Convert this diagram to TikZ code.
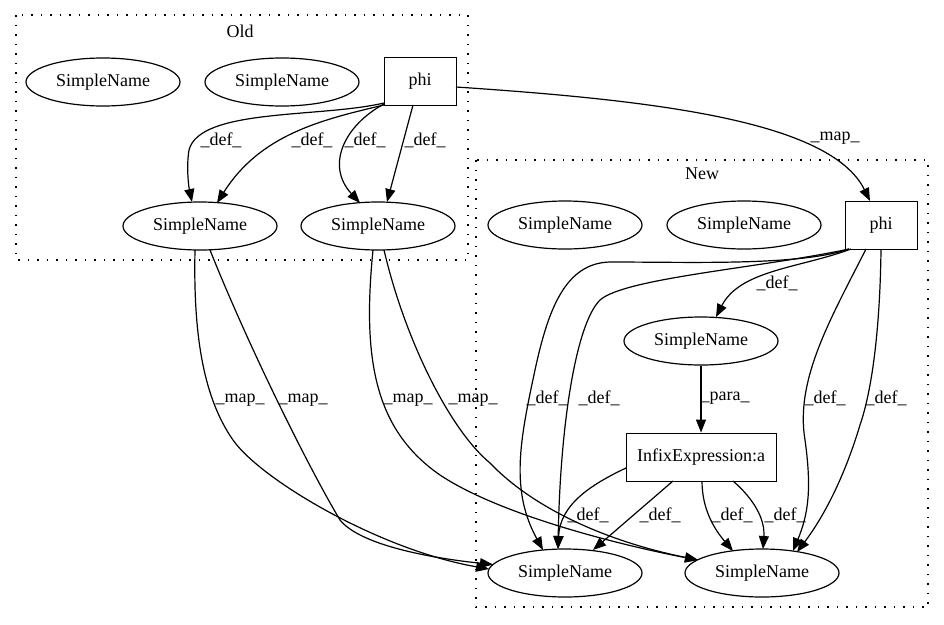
\documentclass[tikz,border=0pt]{standalone}
\usepackage{fontspec}
\setmainfont{Liberation Serif}
\usetikzlibrary{arrows.meta,shapes.geometric,calc}
\begin{document}
\begin{tikzpicture}[x=1pt,y=-1pt,
  every node/.style={font=\fontsize{18}{20}\selectfont},
  sn/.style={draw,ellipse,line width=1.2pt,minimum width=154pt,minimum height=48pt,inner sep=0pt},
  bx/.style={draw,rectangle,line width=0.9pt,minimum height=48pt,inner sep=0pt},
  cl/.style={line width=1.3pt,dash pattern=on 1.5pt off 8pt},
  ed/.style={line width=1.2pt,-{Triangle[length=13pt,width=10pt]}},
  lbl/.style={inner sep=0pt}]
\useasboundingbox (0,0) rectangle (944,624);
% clusters
\draw[cl] (16,15) rectangle (468,260);
\node[lbl] (oldlbl) at (240,31) {Old};
\draw[cl] (476,160) rectangle (928,607);
\node[lbl] (newlbl) at (702,174) {New};
% old nodes
\node[sn] (o1) at (103,82) {SimpleName};
\node[sn] (o2) at (282,82) {SimpleName};
\node[bx,minimum width=72pt] (op) at (420,81) {phi};
\node[sn] (o3) at (200,226) {SimpleName};
\node[sn] (o4) at (378,226) {SimpleName};
% new nodes
\node[sn] (n1) at (565,225) {SimpleName};
\node[sn] (n2) at (744,225) {SimpleName};
\node[bx,minimum width=72pt] (np) at (881,225) {phi};
\node[sn] (n3) at (701,341) {SimpleName};
\node[bx,minimum width=150pt] (ni) at (701,457) {InfixExpression:a};
\node[sn] (n4) at (565,573) {SimpleName};
\node[sn] (n5) at (762,573) {SimpleName};
% old edges
\draw[ed] ($(op)+(-36,22)$) .. controls (320,118) and (200,108) .. (189,150) .. controls (186,168) and (189,188) .. ($(o3)+(-8,-24)$);
\draw[ed] ($(op)+(-36,24)$) .. controls (320,120) and (260,135) .. ($(o3)+(17,-23)$);
\draw[ed] ($(op)+(-36,23)$) .. controls (345,125) and (325,165) .. ($(o4)+(-18,-23)$);
\draw[ed] ($(op)+(-7,24)$) -- ($(o4)+(9,-24)$);
\node[lbl] (l1) at (221,140) {\_def\_};
\node[lbl] (l2) at (312,140) {\_def\_};
\node[lbl] (l3) at (365,140) {\_def\_};
\node[lbl] (l4) at (425,140) {\_def\_};
% map edges
\draw[ed] ($(op)+(36,6)$) .. controls (650,100) and (830,120) .. ($(np)+(-11,-24)$);
\node[lbl] (l5) at (835,138) {\_map\_};
\draw[ed] ($(o3)+(-5,24)$) .. controls (193,340) and (205,400) .. (233,440) .. controls (261,480) and (380,550) .. ($(n4)+(-76,-4)$);
\draw[ed] ($(o3)+(10,24)$) .. controls (250,350) and (310,470) .. (340,520) .. controls (360,545) and (430,558) .. ($(n4)+(-72,-8.5)$);
\draw[ed] ($(o4)+(-5,24)$) .. controls (362,360) and (375,430) .. (440,475) .. controls (500,515) and (620,545) .. ($(n5)+(-64,-13)$);
\draw[ed] ($(o4)+(6,24)$) .. controls (405,340) and (450,430) .. (490,463) .. controls (530,505) and (600,540) .. ($(n5)+(-64,-13)$);
\node[lbl] (l6) at (240,400) {\_map\_};
\node[lbl] (l7) at (303,400) {\_map\_};
\node[lbl] (l8) at (408,400) {\_map\_};
\node[lbl] (l9) at (473,400) {\_map\_};
% new edges
\draw[ed] ($(np)+(-30,24)$) .. controls (800,268) and (740,270) .. ($(n3)+(15,-24)$);
\node[lbl] (l10) at (777,283) {\_def\_};
\draw[ed] ($(np)+(-32,24)$) .. controls (800,266) and (690,262) .. (610,262) .. controls (565,263) and (548,310) .. (535,370) .. controls (520,440) and (510,490) .. ($(n4)+(-22,-23)$);
\draw[ed] ($(np)+(-32,24)$) .. controls (760,268) and (625,278) .. (600,300) .. controls (575,325) and (560,430) .. ($(n4)+(-7,-24)$);
\draw[ed] ($(np)+(-15,24)$) .. controls (830,320) and (795,380) .. (805,440) .. controls (812,490) and (808,515) .. ($(n5)+(31,-22)$);
\draw[ed] ($(np)+(0,24)$) .. controls (880,330) and (872,390) .. (860,425) .. controls (845,475) and (825,515) .. ($(n5)+(35,-21)$);
\node[lbl] (l11) at (547,398) {\_def\_};
\node[lbl] (l12) at (599,398) {\_def\_};
\node[lbl] (l13) at (825,398) {\_def\_};
\node[lbl] (l14) at (886,398) {\_def\_};
\draw[ed] (n3.south) -- (ni.north);
\node[lbl] (l15) at (725,398) {\_para\_};
\draw[ed] ($(ni)+(-75,11)$) .. controls (590,485) and (560,505) .. ($(n4)+(-7,-24)$);
\draw[ed] ($(ni)+(-28,24)$) -- ($(n4)+(28,-23)$);
\draw[ed] ($(ni)+(1,24)$) .. controls (702,510) and (715,530) .. ($(n5)+(-29,-22)$);
\draw[ed] ($(ni)+(32,24)$) .. controls (755,500) and (765,520) .. ($(n5)+(1,-24)$);
\node[lbl] (l16) at (588,515) {\_def\_};
\node[lbl] (l17) at (660,515) {\_def\_};
\node[lbl] (l18) at (732,515) {\_def\_};
\node[lbl] (l19) at (785,515) {\_def\_};
\end{tikzpicture}
\end{document}
